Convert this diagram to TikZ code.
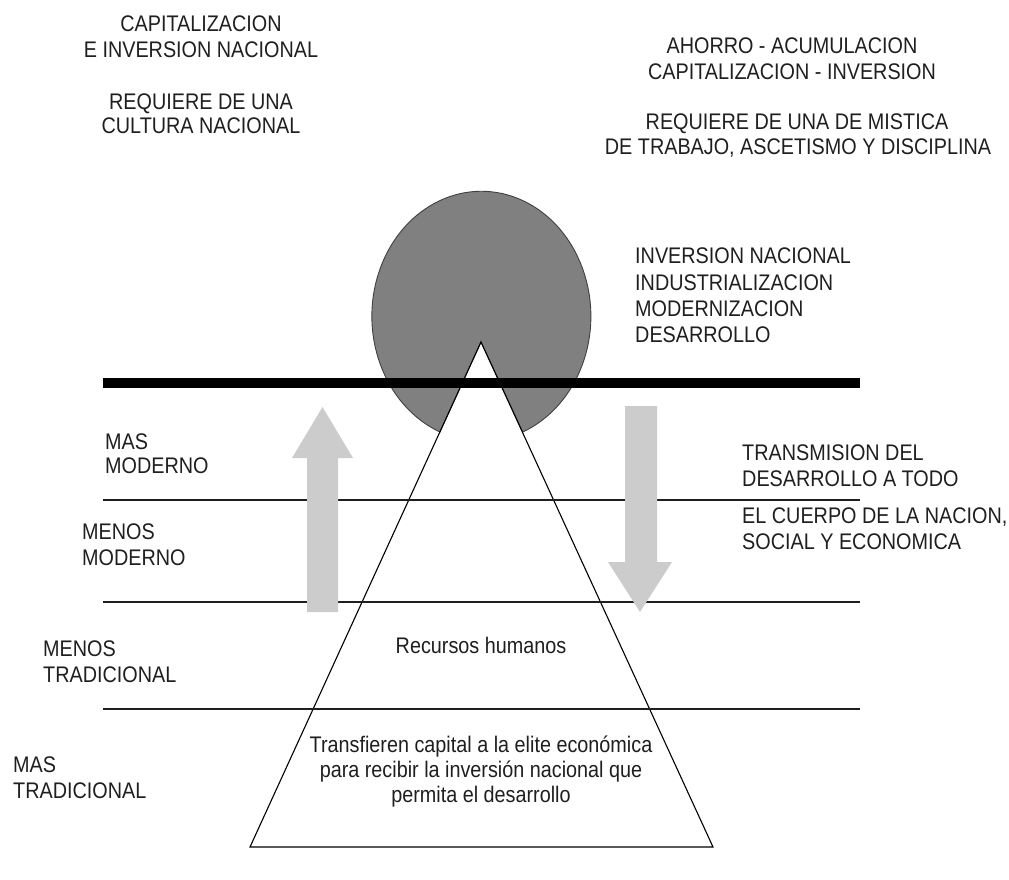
\documentclass[tikz,border=0pt]{standalone}
\usepackage{fontspec}
\setmainfont{Liberation Sans}
\begin{document}
\begin{tikzpicture}[x=1pt,y=1pt,
  lbl/.style={font=\fontsize{19.8}{24}\selectfont, text=black!88, inner sep=0pt, anchor=base, yscale=1.14, transform shape},
  lbll/.style={lbl, anchor=base west},
  thinline/.style={line width=2pt, draw=black!88},
  bigarrow/.style={fill=black!20, draw=none},
  pie/.style={fill=black!50, draw=black!75, line width=0.9pt},
  tri/.style={draw=black, line width=1.1pt}
]
\useasboundingbox (0,0) rectangle (1009,-879);
% pie (ellipse with wedge removed)
\coordinate (apex) at (481,-342);
\coordinate (wl) at (440,-432);
\coordinate (wr) at (523,-432);
\filldraw[pie] (apex) -- (wl) arc[start angle=247.8, end angle=-67.8, x radius=109.5, y radius=125] -- cycle;
% triangle
\coordinate (bl) at (250,-847);
\coordinate (br) at (713,-847);
\draw[tri] (apex) -- (bl) -- (br) -- cycle;
% horizontal lines
\coordinate (t0l) at (103,-383); \coordinate (t0r) at (860,-383);
\coordinate (t1l) at (103,-500); \coordinate (t1r) at (860,-500);
\coordinate (t2l) at (103,-602); \coordinate (t2r) at (860,-602);
\coordinate (t3l) at (103,-709); \coordinate (t3r) at (860,-709);
\draw[line width=10pt, draw=black] (t0l) -- (t0r);
\draw[thinline] (t1l) -- (t1r);
\draw[thinline] (t2l) -- (t2r);
\draw[thinline] (t3l) -- (t3r);
% block arrows
\fill[bigarrow] (322.5,-407) -- (353,-458) -- (338,-458) -- (338,-612) -- (307,-612) -- (307,-458) -- (292,-458) -- cycle;
\fill[bigarrow] (640,-612) -- (672,-562) -- (657,-562) -- (657,-406) -- (625,-406) -- (625,-562) -- (608,-562) -- cycle;
% top-left text
\node[lbl] (a1) at (201,-31.5) {CAPITALIZACION};
\node[lbl] (a2) at (201,-57) {E INVERSION NACIONAL};
\node[lbl] (a3) at (201,-109.5) {REQUIERE DE UNA};
\node[lbl] (a4) at (201,-133.5) {CULTURA NACIONAL};
% top-right text
\node[lbl] (b1) at (792,-53) {AHORRO - ACUMULACION};
\node[lbl] (b2) at (792,-79) {CAPITALIZACION - INVERSION};
\node[lbl] (b3) at (797,-129) {REQUIERE DE UNA DE MISTICA};
\node[lbl] (b4) at (798,-154) {DE TRABAJO, ASCETISMO Y DISCIPLINA};
% right middle
\node[lbll] (c1) at (635,-263) {INVERSION NACIONAL};
\node[lbll] (c2) at (635,-290) {INDUSTRIALIZACION};
\node[lbll] (c3) at (635,-316) {MODERNIZACION};
\node[lbll] (c4) at (635,-342) {DESARROLLO};
% left labels
\node[lbll] (d1) at (105,-449) {MAS};
\node[lbll] (d2) at (105,-473.5) {MODERNO};
\node[lbll] (e1) at (82,-539) {MENOS};
\node[lbll] (e2) at (82,-565) {MODERNO};
\node[lbll] (f1) at (43,-656) {MENOS};
\node[lbll] (f2) at (43,-682) {TRADICIONAL};
\node[lbll] (g1) at (13,-772) {MAS};
\node[lbll] (g2) at (13,-798) {TRADICIONAL};
% right labels
\node[lbll] (h1) at (742,-460.5) {TRANSMISION DEL};
\node[lbll] (h2) at (742,-486.5) {DESARROLLO A TODO};
\node[lbll] (h3) at (742,-523.5) {EL CUERPO DE LA NACION,};
\node[lbll] (h4) at (742,-549) {SOCIAL Y ECONOMICA};
% inside triangle
\node[lbl] (r1) at (481,-653) {Recursos humanos};
\node[lbl] (s1) at (481,-752) {Transfieren capital a la elite económica};
\node[lbl] (s2) at (481,-777) {para recibir la inversión nacional que};
\node[lbl] (s3) at (481,-802) {permita el desarrollo};
\end{tikzpicture}
\end{document}
